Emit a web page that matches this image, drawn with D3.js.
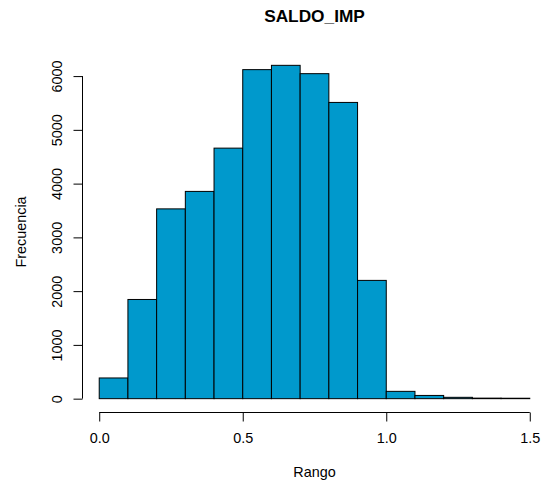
<!DOCTYPE html>
<html>
<head>
<meta charset="utf-8">
<script src="https://cdn.jsdelivr.net/npm/d3@7"></script>
<style>
  html, body { margin: 0; padding: 0; background: #fff; }
  svg text { font-family: "Liberation Sans", Arial, Helvetica, sans-serif; fill: #000; }
</style>
</head>
<body>
<svg id="chart" width="547" height="483"></svg>
<script>
// Histogram bins (lower/upper edges) and their counts
const binStarts = [0.0, 0.1, 0.2, 0.3, 0.4, 0.5, 0.6, 0.7, 0.8, 0.9, 1.0, 1.1, 1.2, 1.3, 1.4];
const binEnds   = [0.1, 0.2, 0.3, 0.4, 0.5, 0.6, 0.7, 0.8, 0.9, 1.0, 1.1, 1.2, 1.3, 1.4, 1.5];
const counts    = [385, 1845, 3530, 3855, 4660, 6120, 6200, 6045, 5510, 2200, 136, 60, 25, 10, 8];
const xTicks = [0.0, 0.5, 1.0, 1.5];
const yTicks = [0, 1000, 2000, 3000, 4000, 5000, 6000];

const svg = d3.select("#chart");
const baseFont = 14.4;

// plot region
const plotLeft = 82, plotRight = 547, plotTop = 52, plotBottom = 412;

const xDomain = [0, 1.5];
const xPad = (xDomain[1] - xDomain[0]) * 0.04;
const x = d3.scaleLinear()
  .domain([xDomain[0] - xPad, xDomain[1] + xPad])
  .range([plotLeft, plotRight]);

const yMax = d3.max(counts);
const y = d3.scaleLinear()
  .domain([-yMax * 0.04, yMax * 1.04])
  .range([plotBottom, plotTop]);

const bins = binStarts.map((s, i) => ({ x0: s, x1: binEnds[i], n: counts[i] }));

// bars
svg.append("g")
  .selectAll("rect")
  .data(bins)
  .join("rect")
  .attr("x", d => x(d.x0))
  .attr("y", d => y(d.n))
  .attr("width", d => x(d.x1) - x(d.x0))
  .attr("height", d => y(0) - y(d.n))
  .attr("fill", "#0099CC")
  .attr("stroke", "#000")
  .attr("stroke-width", 1);

// x axis
const xAxis = d3.axisBottom(x)
  .tickValues(xTicks)
  .tickFormat(d3.format(".1f"))
  .tickSize(9)
  .tickSizeOuter(0);
const gx = svg.append("g")
  .attr("transform", `translate(0,${plotBottom + 0.5})`)
  .call(xAxis);
gx.select(".domain").attr("d", `M${x(xTicks[0])},0H${x(xTicks[xTicks.length - 1])}`).attr("stroke", "#000");
gx.selectAll(".tick line").attr("stroke", "#000");
gx.selectAll(".tick text")
  .attr("font-size", baseFont)
  .attr("font-family", "Liberation Sans, Arial, sans-serif")
  .attr("fill", "#000")
  .attr("y", 30.5)
  .attr("dy", null);

// y axis
const yAxis = d3.axisLeft(y)
  .tickValues(yTicks)
  .tickFormat(d3.format("d"))
  .tickSize(9)
  .tickSizeOuter(0);
const gy = svg.append("g")
  .attr("transform", `translate(${plotLeft + 0.5},0)`)
  .call(yAxis);
gy.select(".domain").attr("d", `M0,${y(yTicks[0])}V${y(yTicks[yTicks.length - 1])}`).attr("stroke", "#000");
gy.selectAll(".tick line").attr("stroke", "#000");
gy.selectAll(".tick text")
  .attr("font-size", baseFont)
  .attr("font-family", "Liberation Sans, Arial, sans-serif")
  .attr("fill", "#000")
  .attr("x", 0)
  .attr("dy", null)
  .attr("text-anchor", "middle")
  .attr("transform", "translate(-20.5,0) rotate(-90)");

// titles
svg.append("text")
  .attr("x", (plotLeft + plotRight) / 2)
  .attr("y", 22)
  .attr("text-anchor", "middle")
  .attr("font-size", baseFont * 1.2)
  .attr("font-weight", "bold")
  .text("SALDO_IMP");

svg.append("text")
  .attr("x", (plotLeft + plotRight) / 2)
  .attr("y", 477)
  .attr("text-anchor", "middle")
  .attr("font-size", baseFont)
  .text("Rango");

svg.append("text")
  .attr("transform", `translate(26,${(plotTop + plotBottom) / 2}) rotate(-90)`)
  .attr("text-anchor", "middle")
  .attr("font-size", baseFont)
  .text("Frecuencia");
</script>
</body>
</html>
